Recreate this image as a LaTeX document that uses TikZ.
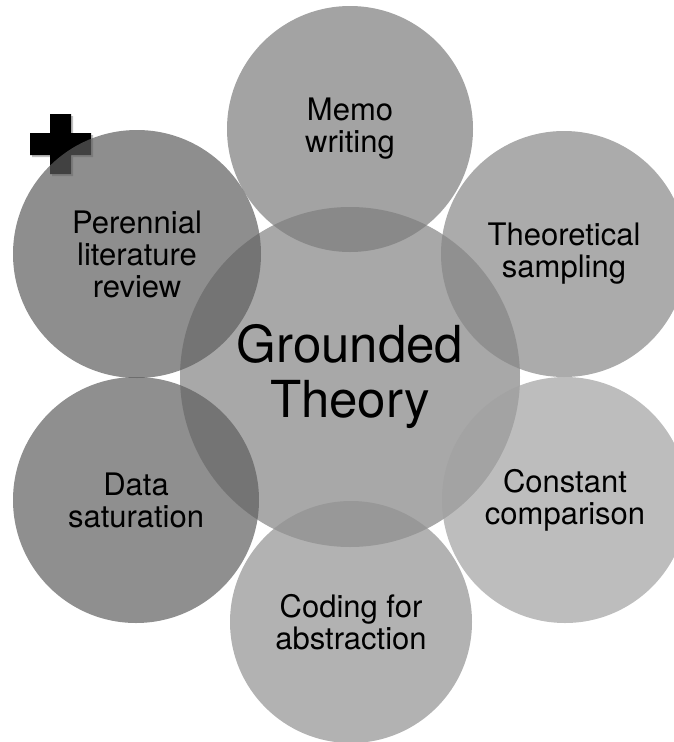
\documentclass[tikz,border=0pt]{standalone}
\usepackage{fontspec}
\setmainfont{TeX Gyre Heros}
\definecolor{ccentral}{RGB}{168,168,168}
\definecolor{cmemo}{RGB}{124,124,124}
\definecolor{ctheo}{RGB}{135,135,135}
\definecolor{cconst}{RGB}{161,161,161}
\definecolor{ccoding}{RGB}{146,146,146}
\definecolor{cdata}{RGB}{95,95,95}
\definecolor{cperen}{RGB}{94,94,94}
\begin{document}
\begin{tikzpicture}[x=1pt,y=-1pt,
  bubble/.style={circle, inner sep=0pt, minimum size=#1, fill opacity=0.7, text opacity=1,
    align=center, font=\fontsize{31}{32}\selectfont},
  hub/.style={circle, inner sep=0pt, minimum size=340pt, fill=ccentral,
    align=center, font=\fontsize{51}{55}\selectfont},
  plusmark/.style={fill=black}]
\useasboundingbox (0,0) rectangle (674,742);
\clip (0,0) rectangle (674,742);
% plus sign with soft shadow
\fill[black, opacity=0.25] (32,135) -- (52,135) -- (52,116) -- (73,116) -- (73,135) -- (93,135)
  -- (93,157) -- (73,157) -- (73,176) -- (52,176) -- (52,157) -- (32,157) -- cycle;
\path[plusmark] (30,133) -- (50,133) -- (50,114) -- (71,114) -- (71,133) -- (91,133)
  -- (91,155) -- (71,155) -- (71,174) -- (50,174) -- (50,155) -- (30,155) -- cycle;
% central
\node[hub] (gt) at (350,377) {Grounded\\Theory};
% outer circles
\node[bubble=246pt, fill=cmemo] (memo) at (350,129) {Memo\\writing};
\node[bubble=246pt, fill=ctheo] (theo) at (564,254) {Theoretical\\sampling};
\node[bubble=246pt, fill=cconst] (const) at (565,500) {Constant\\comparison};
\node[bubble=242pt, fill=ccoding] (coding) at (351,622) {Coding for\\abstraction};
\node[bubble=246pt, fill=cdata] (data) at (136,500) {Data\\saturation};
\node[bubble=248pt, fill=cperen] (peren) at (137,254) {Perennial\\literature\\review};
\end{tikzpicture}
\end{document}
